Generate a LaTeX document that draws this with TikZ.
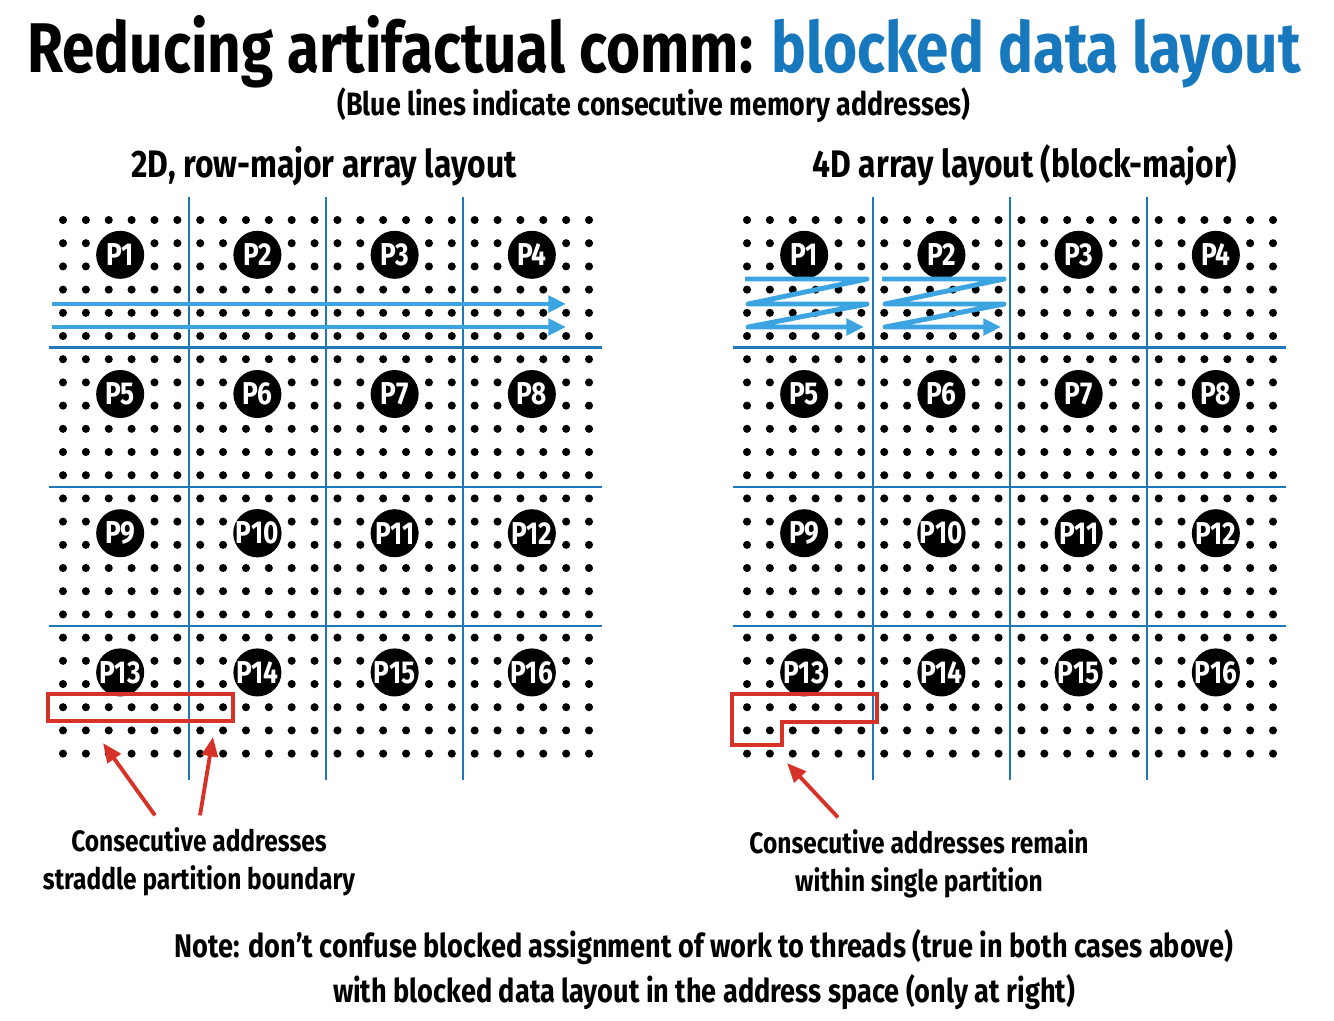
\documentclass[tikz,border=0pt]{standalone}
\usepackage{fontspec}
\setmainfont[FakeStretch=0.83]{Fira Sans}
\usetikzlibrary{arrows.meta}
\definecolor{titleblue}{RGB}{24,120,190}
\definecolor{gridblue}{RGB}{30,120,185}
\definecolor{zigblue}{RGB}{60,165,225}
\definecolor{markred}{RGB}{215,50,40}

\begin{document}
\begin{tikzpicture}[x=0.01cm, y=-0.01cm,
    pnode/.style={circle, fill=black, text=white, minimum size=0.48cm, inner sep=0pt,
        font=\bfseries\fontsize{9}{9}\selectfont},
    gridline/.style={gridblue, line width=0.7pt},
    addrarrow/.style={zigblue, line width=1.4pt, line join=round,
        -{Triangle[length=5pt, width=4.6pt]}},
    markbox/.style={markred, line width=1pt},
    markarrow/.style={markred, line width=1.1pt, -{Triangle[length=5.5pt, width=4.5pt]}},
    note/.style={font=\bfseries\fontsize{8.4}{10.8}\selectfont, align=center}]
    \useasboundingbox (0,0) rectangle (1334,1020);

    % headings
    \node[anchor=base, font=\bfseries\fontsize{20}{20}\selectfont] (title) at (664,72)
        {Reducing artifactual comm: \textcolor{titleblue}{blocked data layout}};
    \node[anchor=base, font=\bfseries\fontsize{9.2}{9.2}\selectfont] (sub) at (654,115)
        {(Blue lines indicate consecutive memory addresses)};
    \node[anchor=base, font=\bfseries\fontsize{10.9}{10.9}\selectfont] (headL) at (324,177)
        {2D, row-major array layout};
    \node[anchor=base, font=\bfseries\fontsize{10.9}{10.9}\selectfont] (headR) at (1025,177)
        {4D array layout (block-major)};

    % the two 24x24 arrays
    \foreach \gx/\side in {63/L, 747/R} {
        \foreach \i in {0,...,23}
            \foreach \j in {0,...,23}
                \fill ({\gx+\i*22.87}, {220+\j*23.2}) circle (1.15pt);
        \foreach \b in {1,2,3} {
            \draw[gridline] ({\gx+(6*\b-0.5)*22.87}, 197) -- ({\gx+(6*\b-0.5)*22.87}, 780);
            \draw[gridline] ({\gx-14}, {220+(6*\b-0.5)*23.2}) -- ({\gx+539}, {220+(6*\b-0.5)*23.2});
        }
        \foreach \r in {0,...,3}
            \foreach \c in {0,...,3} {
                \pgfmathtruncatemacro\n{4*\r+\c+1}
                \node[pnode] (\side\n) at ({\gx+(6*\c+2.5)*22.87}, {220+(6*\r+1.5)*23.2}) {P\n};
            }
    }

    % consecutive addresses, row-major
    \draw[addrarrow] (52,304) -- (566,304);
    \draw[addrarrow] (52,327) -- (566,327);

    % consecutive addresses, block-major
    \foreach \bx in {0,137}
        \draw[addrarrow] ({745+\bx},279) -- ({867+\bx},279) -- ({748+\bx},304)
            -- ({867+\bx},304) -- ({748+\bx},327) -- ({864+\bx},327);

    % marked runs of addresses
    \draw[markbox] (48,694) rectangle (233,721);
    \draw[markbox] (732,694) -- (877,694) -- (877,722) -- (782,722) -- (782,745)
        -- (732,745) -- cycle;

    % captions
    \node[note] (capL) at (199,862) {Consecutive addresses\\straddle partition boundary};
    \node[note] (capR) at (919,864) {Consecutive addresses remain\\within single partition};
    \node[note, font=\bfseries\fontsize{9.3}{12.8}\selectfont] (foot) at (704,970)
        {Note: don’t confuse blocked assignment of work to threads (true in both cases above)\\
         with blocked data layout in the address space (only at right)};

    \coordinate (tipL1) at (103,743);
    \coordinate (tipL2) at (213,737);
    \coordinate (tipR) at (787,763);
    \draw[markarrow] ([xshift=-0.44cm]capL.north) -- (tipL1);
    \draw[markarrow] ([xshift=0.01cm]capL.north) -- (tipL2);
    \draw[markarrow] ([xshift=-0.81cm]capR.north) -- (tipR);
\end{tikzpicture}
\end{document}
